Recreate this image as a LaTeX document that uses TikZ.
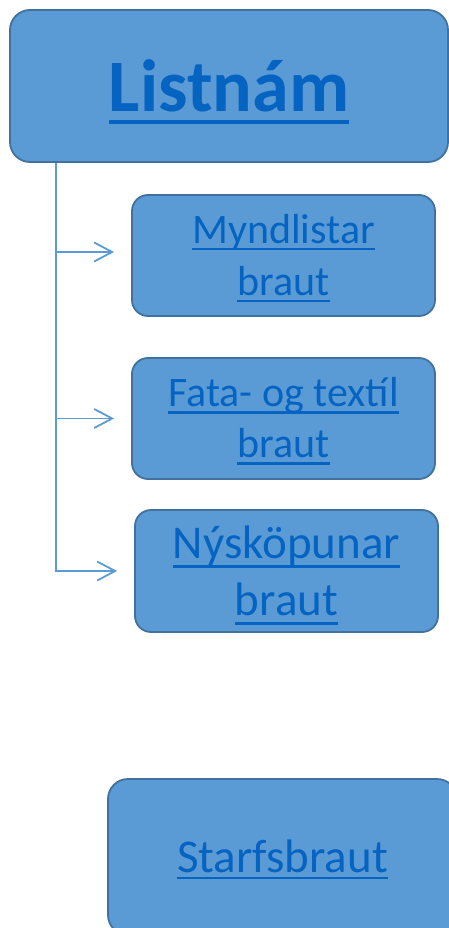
\documentclass[tikz,border=0pt]{standalone}
\usepackage{fontspec}
\setmainfont{Carlito}
\usetikzlibrary{arrows.meta}
\definecolor{boxfill}{HTML}{5B9BD5}
\definecolor{boxline}{HTML}{41719C}
\definecolor{linkblue}{HTML}{0563C1}
\definecolor{connline}{HTML}{5B9BD5}
% underline: #1 text, #2 depth of lower edge, #3 thickness
\newcommand\myul[3]{\setbox0\hbox{#1}\leavevmode\rlap{\rule[-#2]{\wd0}{#3}}\copy0}
\tikzset{
  box/.style={draw=boxline, fill=boxfill, line width=1.8pt, rounded corners=16pt,
    text=linkblue, inner sep=0pt, align=center},
  subbox/.style={box, minimum width=303pt, minimum height=121pt},
  conn/.style={draw=connline, line width=1.3pt,
    -{Straight Barb[length=18pt,width=19pt,line width=1.8pt]}, shorten >=17pt}
}
\begin{document}
\begin{tikzpicture}[x=1pt,y=-1pt]
\useasboundingbox (0,0) rectangle (449,928);
\node[box, minimum width=438pt, minimum height=152pt, rounded corners=20pt,
  font=\fontsize{74}{80}\selectfont\bfseries, text height=52pt, text depth=0pt]
  (top) at (229,86) {\myul{Listnám}{12pt}{3.5pt}};
\node[subbox, font=\fontsize{42}{52}\selectfont, text height=84pt, text depth=5pt]
  (b1) at (283.5,255.5) {\myul{Myndlistar}{7pt}{2.3pt}\\\myul{braut}{7pt}{2.3pt}};
\node[subbox, font=\fontsize{42}{51}\selectfont, text height=82pt, text depth=5pt]
  (b2) at (283.5,418.5) {\myul{Fata- og textíl}{7.5pt}{2.3pt}\\\myul{braut}{7.5pt}{2.3pt}};
\node[subbox, minimum height=122pt, font=\fontsize{47}{57}\selectfont, text height=92pt, text depth=4pt]
  (b3) at (286.5,571) {\myul{Nýsköpunar}{9.5pt}{2.5pt}\\\myul{braut}{9.5pt}{2.5pt}};
\node[box, minimum width=349pt, minimum height=156pt, rounded corners=20pt,
  font=\fontsize{47}{57}\selectfont, text height=30pt, text depth=0pt]
  (b4) at (282.5,857) {\myul{Starfsbraut}{7pt}{2.5pt}};
\coordinate (trunk) at ([xshift=-173pt]top.south);
\draw[conn] (trunk) |- ([yshift=3.5pt]b1.west);
\draw[conn] (trunk) |- (b2.west);
\draw[conn] (trunk) |- (b3.west);
\end{tikzpicture}
\end{document}
